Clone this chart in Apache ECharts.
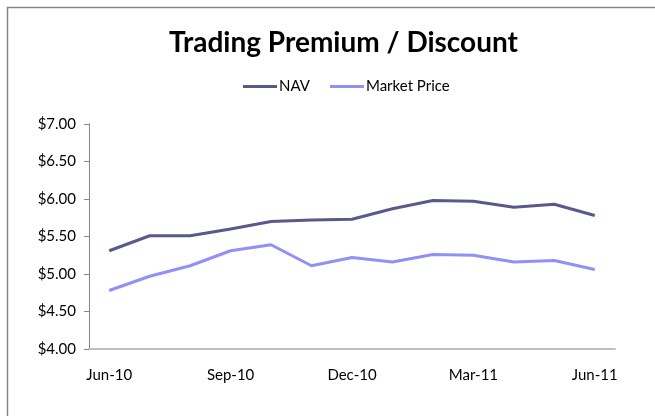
<!DOCTYPE html>
<html>
<head>
<meta charset="utf-8">
<script src="https://cdn.jsdelivr.net/npm/echarts@6/dist/echarts.min.js"></script>
<style>
  html, body { margin: 0; padding: 0; background: #fff; }
  #chart { width: 655px; height: 416px; }
</style>
</head>
<body>
<div id="chart"></div>
<script>
var months = ['Jun-10', 'Jul-10', 'Aug-10', 'Sep-10', 'Oct-10', 'Nov-10', 'Dec-10',
              'Jan-11', 'Feb-11', 'Mar-11', 'Apr-11', 'May-11', 'Jun-11'];
var nav = [5.31, 5.51, 5.51, 5.60, 5.70, 5.72, 5.73, 5.87, 5.98, 5.97, 5.89, 5.93, 5.78];
var marketPrice = [4.78, 4.97, 5.11, 5.31, 5.39, 5.11, 5.22, 5.16, 5.26, 5.25, 5.16, 5.18, 5.06];

var font = 'Lato, "Open Sans", sans-serif';

var chart = echarts.init(document.getElementById('chart'));

chart.setOption({
    animation: false,
    graphic: [{
        type: 'rect',
        shape: { x: 7.5, y: 7.5, width: 660, height: 420 },
        style: { fill: 'none', stroke: '#868686', lineWidth: 1.5 },
        silent: true
    }],
    title: {
        text: 'Trading Premium / Discount',
        left: 164,
        top: 24,
        textStyle: { fontFamily: font, fontSize: 28, fontWeight: 'bold', color: '#000' }
    },
    legend: {
        top: 74,
        left: 238,
        itemWidth: 34,
        itemHeight: 3,
        itemGap: 20,
        icon: 'rect',
        textStyle: { fontFamily: font, fontSize: 15, color: '#000', padding: [0, 0, 0, -3] },
        data: ['NAV', 'Market Price']
    },
    grid: { left: 89, right: 40, top: 124, bottom: 67 },
    xAxis: {
        type: 'category',
        data: months,
        boundaryGap: true,
        axisLine: { lineStyle: { color: '#BFBFBF', width: 2 } },
        axisTick: { interval: 2, length: 4, lineStyle: { color: '#868686' } },
        axisLabel: { interval: 2, margin: 19, fontFamily: font, fontSize: 15, color: '#000' },
        splitLine: { show: false }
    },
    yAxis: {
        type: 'value',
        min: 4,
        max: 7,
        interval: 0.5,
        axisLine: { show: true, lineStyle: { color: '#868686' } },
        axisTick: { show: true, length: 5, lineStyle: { color: '#868686' } },
        axisLabel: {
            margin: 13,
            fontFamily: font,
            fontSize: 15,
            color: '#000',
            formatter: function (v) { return '$' + v.toFixed(2); }
        },
        splitLine: { show: false }
    },
    series: [
        {
            name: 'NAV',
            type: 'line',
            data: nav,
            symbol: 'none',
            itemStyle: { color: '#585A8C' },
            lineStyle: { color: '#585A8C', width: 3 }
        },
        {
            name: 'Market Price',
            type: 'line',
            data: marketPrice,
            symbol: 'none',
            itemStyle: { color: '#9090F8' },
            lineStyle: { color: '#9090F8', width: 3 }
        }
    ]
});
</script>
</body>
</html>
